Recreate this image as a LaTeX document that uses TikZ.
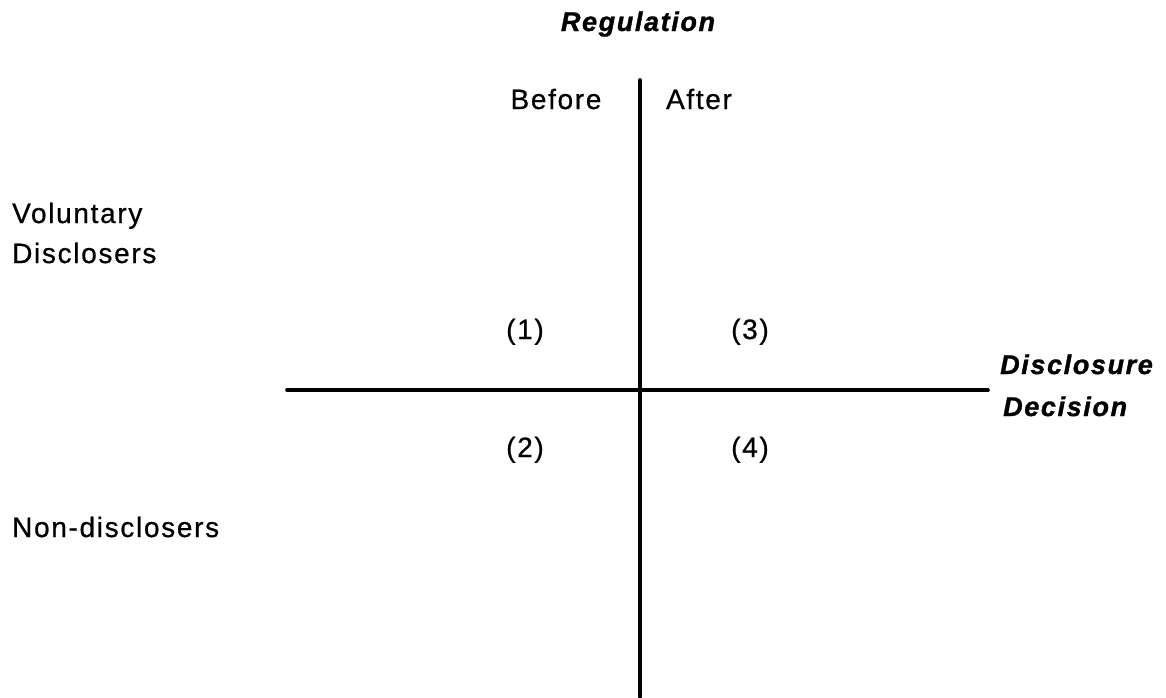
\documentclass[tikz,border=0pt]{standalone}
\usepackage{fontspec}
\setmainfont{Liberation Sans}[LetterSpace=6, UprightFeatures={FakeBold=0.7}, BoldItalicFeatures={FakeBold=1.2}]
\usetikzlibrary{positioning}

\begin{document}
\begin{tikzpicture}[
  x=1pt, y=-1pt,
  font=\fontsize{28}{33}\selectfont,
  term/.style={anchor=base, inner sep=0pt},
  rowterm/.style={term, anchor=base west},
  heading/.style={term, font=\fontsize{27}{33}\selectfont\bfseries\itshape},
  cell/.style={term},
  axis/.style={line width=3.6pt, line cap=round}
]
\useasboundingbox (0,0) rectangle (1166,697);

% axis headings
\node[heading] (regulation) at (638,31) {Regulation};
\node[heading, anchor=base west] (disclosure) at (1000,374) {Disclosure};
\node[heading, anchor=base west] (decision) at (1003,416) {Decision};

% column and row labels
\node[term] (before) at (556,109) {Before};
\node[term] (after) at (699,109) {After};
\node[rowterm] (voluntary) at (12,223) {Voluntary};
\node[rowterm] (disclosers) at (12,263) {Disclosers};
\node[rowterm] (nondisc) at (12,537) {Non-disclosers};

% quadrants
\node[cell] (q1) at (525,339) {(1)};
\node[cell] (q3) at (750,339) {(3)};
\node[cell] (q2) at (525,457) {(2)};
\node[cell] (q4) at (750,457) {(4)};

% axes
\coordinate (vtop) at (640,80);
\coordinate (vbot) at (640,697);
\coordinate (hleft) at (287,390);
\coordinate (hright) at (988,390);
\draw[axis] (vtop) -- (vbot);
\draw[axis] (hleft) -- (hright);
\end{tikzpicture}
\end{document}
